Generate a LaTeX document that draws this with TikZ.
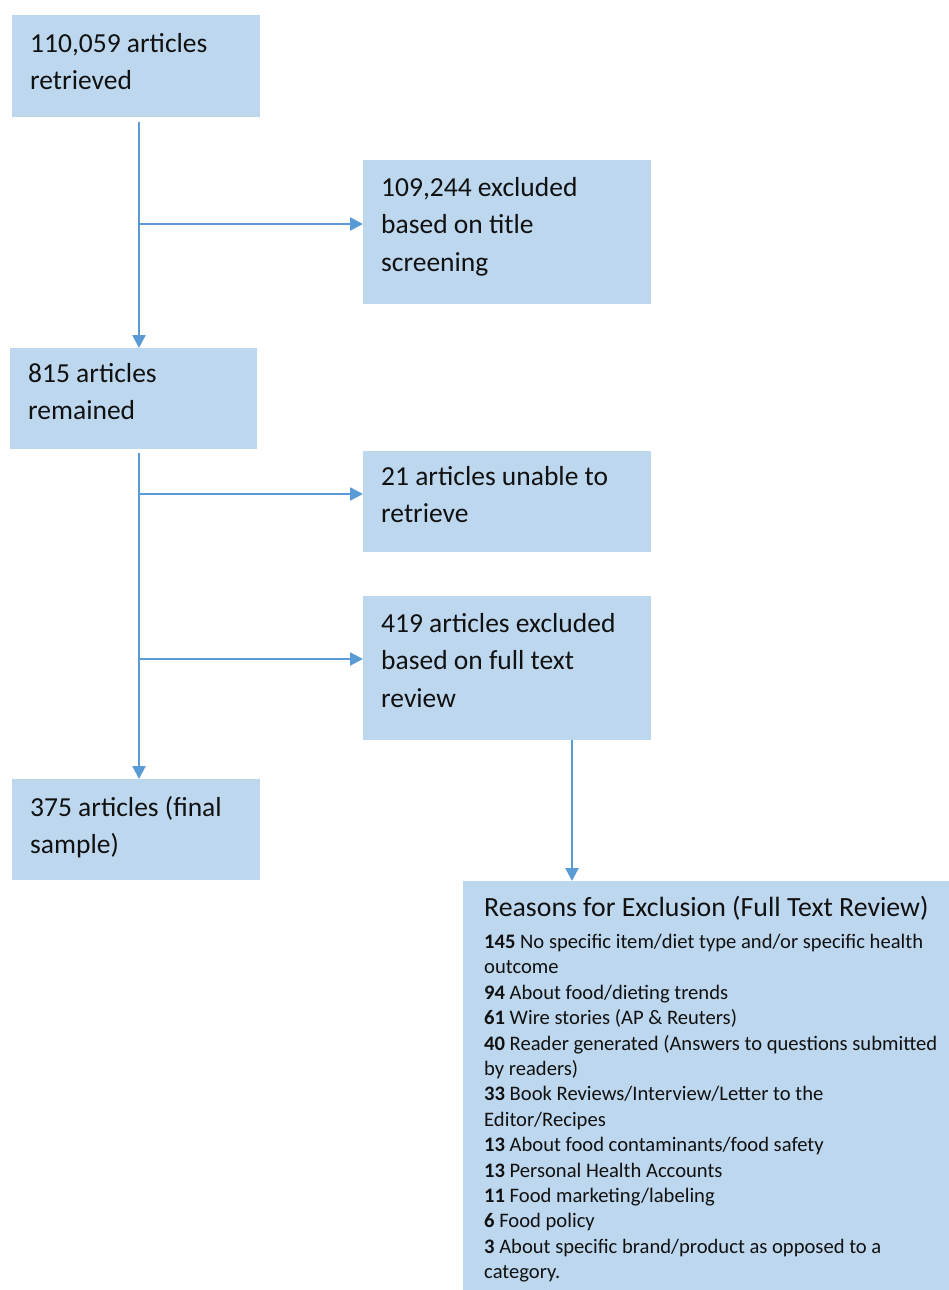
\documentclass[tikz,border=0pt]{standalone}
\usepackage{fontspec}
\setmainfont{Carlito}
\usetikzlibrary{arrows.meta}
\definecolor{boxfill}{HTML}{BDD7EE}
\definecolor{arrcol}{HTML}{5B9BD5}
\definecolor{txtcol}{HTML}{111111}
\tikzset{
  box/.style={draw=none, fill=boxfill, rectangle, inner sep=0pt, anchor=north west},
  txt/.style={inner sep=0pt, anchor=north west, align=left, text=txtcol,
    font=\fontsize{27.5}{37.5}\selectfont},
  reasons/.style={inner sep=0pt, anchor=north west, align=left, text=txtcol,
    font=\fontsize{20.6}{25.4}\selectfont},
  arr/.style={draw=arrcol, line width=2.4pt, -{Triangle[length=13pt,width=13pt]}},
}
\begin{document}
\begin{tikzpicture}[x=1pt,y=-1pt]
\useasboundingbox (0,0) rectangle (949,1290);
% boxes
\node[box, minimum width=248pt, minimum height=102pt] (b1) at (12,15) {};
\node[box, minimum width=288pt, minimum height=144pt] (b2) at (363,160) {};
\node[box, minimum width=247pt, minimum height=101pt] (b3) at (10,348) {};
\node[box, minimum width=288pt, minimum height=101pt] (b4) at (363,451) {};
\node[box, minimum width=288pt, minimum height=144pt] (b5) at (363,596) {};
\node[box, minimum width=248pt, minimum height=101pt] (b6) at (12,779) {};
\node[box, minimum width=486pt, minimum height=409pt] (b7) at (463,881) {};
% texts
\node[txt] (t1) at (30,33) {110,059 articles\\retrieved};
\node[txt] (t2) at (381,177) {109,244 excluded\\based on title\\screening};
\node[txt] (t3) at (28,363) {815 articles\\remained};
\node[txt] (t4) at (381,466) {21 articles unable to\\retrieve};
\node[txt] (t5) at (381,613) {419 articles excluded\\based on full text\\review};
\node[txt] (t6) at (30,796) {375 articles (final\\sample)};
\node[inner sep=0pt, anchor=north west, text=txtcol, font=\fontsize{27.8}{30}\selectfont] (t7h) at (484,896) {Reasons for Exclusion (Full Text Review)};
\node[reasons] (t7) at (484,934) {\textbf{145} No specific item/diet type and/or specific health\\
outcome\\
\textbf{94} About food/dieting trends\\
\textbf{61} Wire stories (AP \& Reuters)\\
\textbf{40} Reader generated (Answers to questions submitted\\
by readers)\\
\textbf{33} Book Reviews/Interview/Letter to the\\
Editor/Recipes\\
\textbf{13} About food contaminants/food safety\\
\textbf{13} Personal Health Accounts\\
\textbf{11} Food marketing/labeling\\
\textbf{6} Food policy\\
\textbf{3} About specific brand/product as opposed to a\\
category.};
% junction coordinates
\coordinate (j1) at (139,224);
\coordinate (j2) at (139,494);
\coordinate (j3) at (139,659);
\coordinate (j4) at (572,741);
% connectors
\draw[arr, shorten <=5pt] (b1.south -| j1) -- (b3.north -| j1);
\draw[arr, shorten <=4pt] (b3.south -| j1) -- (b6.north -| j1);
\draw[arr] (j1) -- (b2.west |- j1);
\draw[arr] (j2) -- (b4.west |- j2);
\draw[arr] (j3) -- (b5.west |- j3);
\draw[arr] (b5.south -| j4) -- (b7.north -| j4);
\end{tikzpicture}
\end{document}
